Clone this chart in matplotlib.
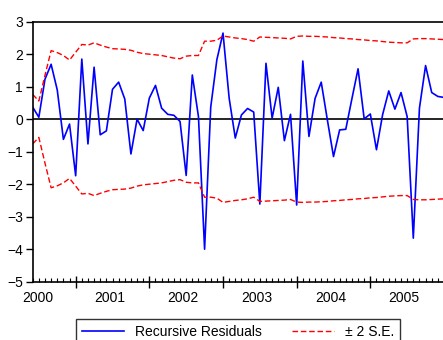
import numpy as np
from matplotlib import pyplot as plt

# monthly recursive residuals, 2000M06 onwards
resid = [0.37, 0.06, 1.23, 1.69, 0.90, -0.62, -0.15, -1.74, 1.85, -0.76,
         1.60, -0.48, -0.36, 0.92, 1.14, 0.62, -1.07, 0.00, -0.35, 0.65,
         1.04, 0.34, 0.15, 0.12, -0.07, -1.73, 1.36, 0.08, -4.00, 0.37,
         1.83, 2.65, 0.65, -0.58, 0.13, 0.33, 0.22, -2.61, 1.72, 0.03,
         0.98, -0.66, 0.15, -2.64, 1.79, -0.53, 0.64, 1.14, -0.02, -1.15,
         -0.33, -0.31, 0.63, 1.55, 0.01, 0.16, -0.94, 0.14, 0.87, 0.31,
         0.82, 0.08, -3.66, 0.34, 1.65, 0.82, 0.70, 0.67]
# 2 standard error band (upper = +band, lower = -band)
band = [0.76, 0.56, 1.35, 2.11, 2.05, 1.96, 1.82, 2.06, 2.30, 2.28,
        2.35, 2.28, 2.22, 2.17, 2.16, 2.15, 2.12, 2.06, 2.02, 2.00,
        1.98, 1.96, 1.92, 1.88, 1.86, 1.94, 1.96, 1.96, 2.40, 2.40,
        2.43, 2.56, 2.53, 2.50, 2.48, 2.45, 2.40, 2.53, 2.52, 2.51,
        2.50, 2.49, 2.47, 2.55, 2.56, 2.55, 2.55, 2.54, 2.53, 2.51,
        2.50, 2.48, 2.47, 2.45, 2.44, 2.42, 2.41, 2.39, 2.37, 2.36,
        2.35, 2.35, 2.47, 2.48, 2.48, 2.47, 2.46, 2.45]
years = ['2000', '2001', '2002', '2003', '2004', '2005']
start_month = 6  # first observation is June 2000

plt.rcParams['font.family'] = ['Liberation Sans', 'DejaVu Sans']

t = np.arange(len(resid))
band = np.array(band)

fig = plt.figure(figsize=(4.43, 3.40), dpi=100)
ax = fig.add_axes([32.7 / 443, 58.3 / 340, (444 - 32.7) / 443, 260 / 340])

ax.axhline(0, color='black', lw=1.2, zorder=1)
l1, = ax.plot(t, resid, color='#0000ff', lw=1.2, label='Recursive Residuals')
l2, = ax.plot(t, band, color='#ff0000', lw=1.0, ls=(0, (4, 2)), label='± 2 S.E.')
ax.plot(t, -band, color='#ff0000', lw=1.0, ls=(0, (4, 2)))

ax.set_xlim(0, len(resid) - 1)
ax.set_ylim(-5, 3)
ax.set_yticks(range(-5, 4))
ax.tick_params(axis='y', direction='out', length=5, width=1, labelsize=10, pad=2)

# year starts as major ticks, months as minor ticks
year_start = [12 * i + (13 - start_month) for i in range(len(years) - 1)]
ax.set_xticks(year_start)
ax.set_xticklabels([])
ax.set_xticks(t, minor=True)
ax.tick_params(axis='x', which='major', direction='inout', length=8, width=1)
ax.tick_params(axis='x', which='minor', direction='in', length=3, width=0.8)

# year labels in the middle of each year
label_pos = [0.9] + [ys + 5.5 for ys in year_start]
for x, lab in zip(label_pos, years):
    ax.text(x, -0.035, lab, transform=ax.get_xaxis_transform(),
            ha='center', va='top', fontsize=10)

for side in ['left', 'bottom', 'top']:
    ax.spines[side].set_linewidth(1.2)
ax.spines['right'].set_visible(False)

leg = fig.legend(handles=[l1, l2], loc='upper center', ncol=2,
                 bbox_to_anchor=(238 / 443, 1 - 319 / 340), borderaxespad=0,
                 fontsize=10, frameon=True, fancybox=False, edgecolor='black',
                 handlelength=3.0, columnspacing=2.2, borderpad=0.4)
leg.get_frame().set_linewidth(1.0)

plt.savefig('out.png', dpi=100)
